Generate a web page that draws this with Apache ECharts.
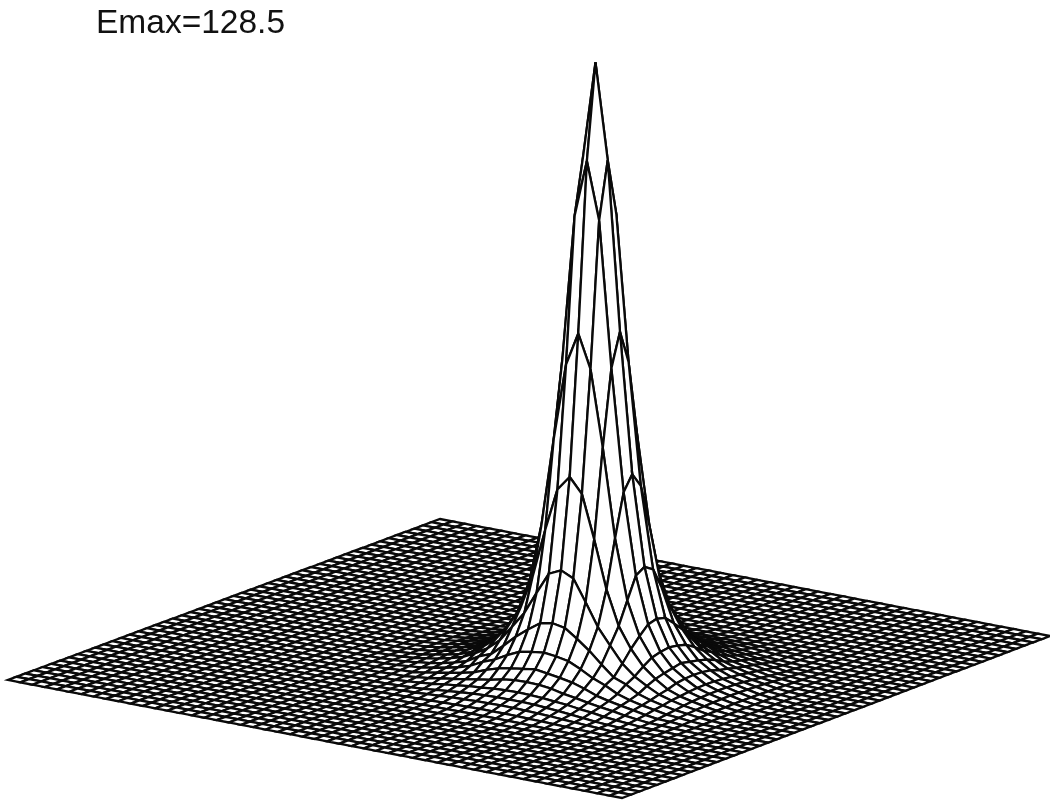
<!DOCTYPE html>
<html><head><meta charset="utf-8">
<style>html,body{margin:0;padding:0;background:#fff}#c{width:1050px;height:800px}</style>
<script src="https://cdn.jsdelivr.net/npm/echarts@6/dist/echarts.min.js"></script>
</head><body><div id="c"></div>
<script>
const titleText = 'Emax=128.5';
const gridCells = 50;
const peakNode = [31, 26];
// Energy at grid offset (a,b) from the peak, a>=b; 0 further out.
const energyByOffset = [
 [128.5],
 [108.5,96.5],
 [73,66,50],
 [43.6,40.5,31.5,21.5],
 [24.7,23.5,19,14.3,10.9],
 [14.3,13.8,12,10,7.6,5.4],
 [8.8,8.5,8,6.8,5.4,4.4,3.1],
 [6,5.6,5.2,4.7,3.9,2.9,2.3,1.8],
 [4,3.9,3.6,3.0,2.6,2.1,1.7,1.35,0.9],
 [2.5,2.45,2.3,2.05,1.85,1.5,1.25,0.85,0.6,0.4],
 [1.7,1.68,1.6,1.45,1.25,1.0,0.75,0.5,0.32,0.2,0.1],
 [1.15,1.1,1.05,0.95,0.85,0.7,0.55,0.4,0.28,0.15,0.08,0.04],
 [0.6,0.6,0.55,0.5,0.45,0.38,0.3,0.22,0.16,0.1,0.05,0.02,0.01],
 [0.28,0.27,0.26,0.24,0.21,0.18,0.14,0.1,0.07,0.05,0.03,0.01,0,0],
 [0.12,0.12,0.11,0.1,0.09,0.08,0.06,0.05,0.03,0.02,0.01,0,0,0,0]
];

function energy(i, j) {
  let a = Math.abs(i - peakNode[0]), b = Math.abs(j - peakNode[1]);
  if (a < b) { const t = a; a = b; b = t; }
  const row = energyByOffset[a];
  return row ? row[b] : 0;
}
// View: corners of the flat base on the page and vertical scale.
const view = { back:[440,519], right:[1050,636], left:[8,680], front:[622,798], unitPx:4.77 };
const den = (view.right[0]-view.front[0])*(view.left[1]-view.front[1])-(view.left[0]-view.front[0])*(view.right[1]-view.front[1]);
const sx = view.back[0]-view.right[0]+view.front[0]-view.left[0];
const sy = view.back[1]-view.right[1]+view.front[1]-view.left[1];
const pg = (sx*(view.left[1]-view.front[1])-(view.left[0]-view.front[0])*sy)/den;
const ph = ((view.right[0]-view.front[0])*sy-sx*(view.right[1]-view.front[1]))/den;
function project(i, j) {
  const u = i/gridCells, v = j/gridCells, w = pg*u+ph*v+1;
  const x = ((view.right[0]-view.back[0]+pg*view.right[0])*u+(view.left[0]-view.back[0]+ph*view.left[0])*v+view.back[0])/w;
  const y = ((view.right[1]-view.back[1]+pg*view.right[1])*u+(view.left[1]-view.back[1]+ph*view.left[1])*v+view.back[1])/w;
  return [x, y - energy(i,j)*view.unitPx];
}
const cells = [];
for (let i = 0; i < gridCells; i++) for (let j = 0; j < gridCells; j++) cells.push([i, j]);

const chart = echarts.init(document.getElementById('c'), null, {renderer:'canvas'});
chart.setOption({
  animation:false,
  backgroundColor:'#fff',
  title:{ text:titleText, left:91, top:2, textStyle:{fontFamily:'Liberation Sans',fontSize:33.5,fontWeight:'normal',color:'#111'} },
  grid:{left:0,right:0,top:0,bottom:0},
  xAxis:{type:'value',min:0,max:1050,show:false},
  yAxis:{type:'value',min:0,max:800,inverse:true,show:false},
  series:[{
    type:'custom', coordinateSystem:'cartesian2d', clip:false, progressive:0, silent:true,
    data:cells, encode:{x:0,y:1},
    renderItem(params, api){
      const i = api.value(0), j = api.value(1);
      const pts = [[i,j],[i+1,j],[i+1,j+1],[i,j+1]].map(n => api.coord(project(n[0],n[1])));
      return { type:'polygon', shape:{points:pts},
        style:{fill:'#fff',stroke:'#0a0a0a',lineWidth:2.3,lineJoin:'miter',miterLimit:6} };
    }
  }]
});
</script></body></html>
